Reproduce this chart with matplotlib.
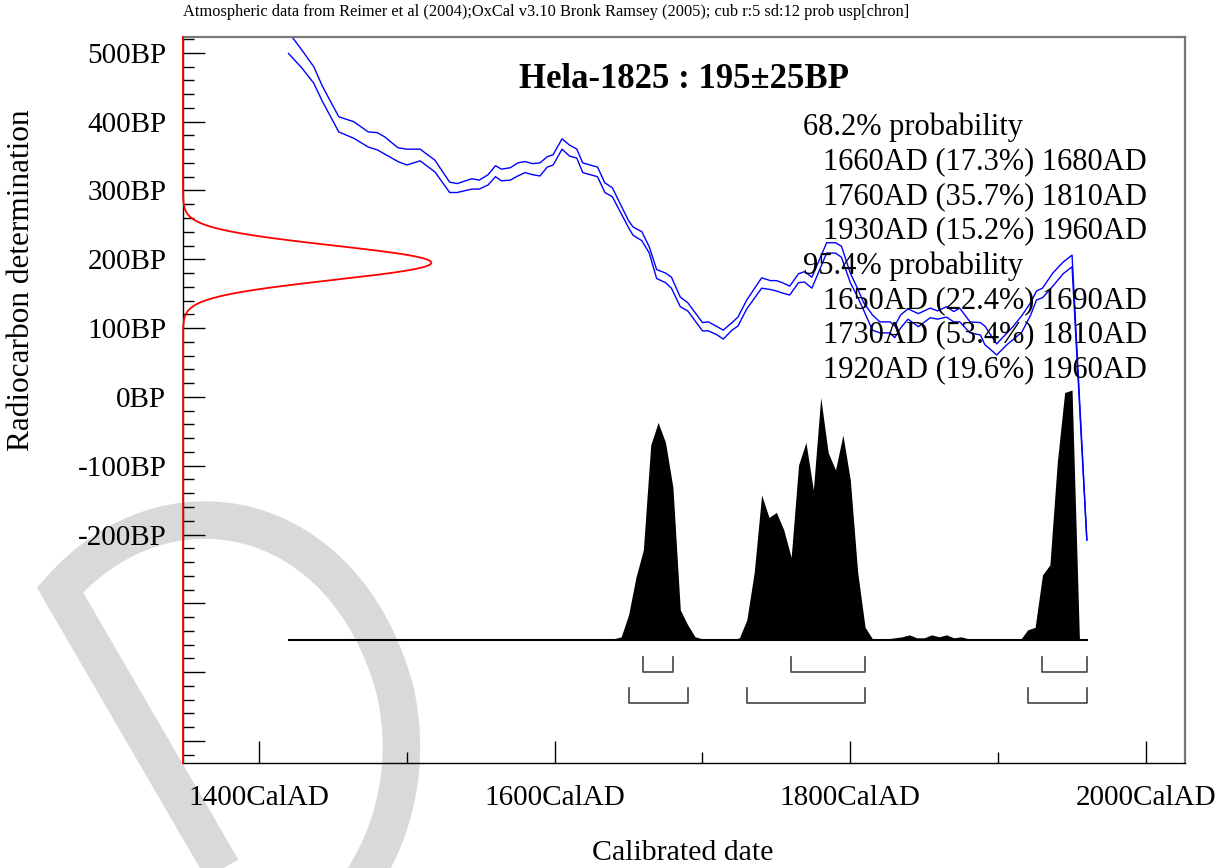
import numpy as np
import matplotlib
matplotlib.use('Agg')
import matplotlib.pyplot as plt
from matplotlib.ticker import FixedLocator, FuncFormatter
from matplotlib.path import Path
from matplotlib.patches import PathPatch

# Measurement
sample = 'Hela-1825'
c14_mean = 195
c14_sd = 25

# Calibration curve (upper / lower 1-sigma lines, BP)
cal_years = [1420, 1429, 1437, 1443, 1454, 1464, 1474, 1480, 1485, 1494, 1500, 1509,
             1519, 1529, 1534, 1544, 1549, 1555, 1560, 1564, 1570, 1575, 1580, 1585,
             1590, 1595, 1599, 1605, 1610, 1615, 1619, 1629, 1634, 1639, 1650, 1653,
             1659, 1664, 1669, 1675, 1679, 1685, 1690, 1700, 1704, 1710, 1714, 1720,
             1724, 1730, 1740, 1746, 1750, 1754, 1759, 1765, 1769, 1774, 1784, 1790,
             1794, 1800, 1805, 1809, 1815, 1820, 1827, 1830, 1834, 1839, 1846, 1854,
             1859, 1865, 1870, 1874, 1881, 1888, 1891, 1899, 1906, 1910, 1916, 1922,
             1926, 1930, 1937, 1944, 1950, 1960]
cal_upper = [530, 504, 480, 451, 407, 400, 385, 384, 378, 362, 360, 360,
             344, 312, 310, 317, 315, 323, 336, 331, 333, 340, 342, 339,
             340, 349, 352, 375, 366, 360, 340, 334, 311, 304, 256, 247,
             240, 218, 185, 180, 174, 145, 137, 108, 109, 102, 97, 108,
             116, 141, 173, 169, 169, 166, 161, 179, 182, 174, 224, 224,
             219, 180, 157, 137, 119, 109, 109, 103, 119, 128, 121, 129,
             125, 131, 124, 129, 109, 108, 103, 77, 93, 102, 118, 137,
             154, 158, 180, 196, 206, -208]
cal_lower = [499, 478, 456, 429, 385, 376, 363, 359, 353, 342, 337, 343,
             327, 297, 297, 302, 302, 308, 320, 314, 315, 321, 326, 323,
             321, 334, 337, 360, 350, 347, 326, 320, 297, 291, 246, 235,
             227, 209, 172, 166, 158, 131, 125, 96, 96, 90, 84, 97,
             103, 128, 158, 156, 154, 151, 148, 166, 167, 158, 209, 209,
             203, 166, 145, 126, 97, 93, 93, 86, 100, 113, 102, 115,
             113, 116, 109, 109, 93, 90, 76, 61, 76, 83, 94, 119,
             141, 144, 161, 179, 189, -208]

# Calibrated probability (relative)
prob_years = [1420, 1635, 1640, 1645, 1650, 1655, 1660, 1665, 1670, 1675, 1680, 1685,
              1690, 1695, 1700, 1705, 1710, 1715, 1720, 1725, 1730, 1735, 1740, 1745,
              1750, 1755, 1760, 1765, 1770, 1775, 1780, 1785, 1790, 1795, 1800, 1805,
              1810, 1815, 1820, 1825, 1830, 1835, 1840, 1845, 1850, 1855, 1860, 1865,
              1870, 1875, 1880, 1885, 1890, 1895, 1900, 1905, 1910, 1915, 1920, 1925,
              1930, 1935, 1940, 1945, 1950, 1955, 1960]
prob = [0, 0, 0.004, 0.012, 0.10, 0.25, 0.36, 0.78, 0.87, 0.79, 0.61, 0.12,
        0.06, 0.012, 0.004, 0.004, 0, 0, 0, 0.008, 0.08, 0.27, 0.58, 0.49,
        0.51, 0.44, 0.33, 0.70, 0.79, 0.60, 0.97, 0.75, 0.68, 0.82, 0.64, 0.27,
        0.05, 0.004, 0, 0.004, 0.008, 0.012, 0.02, 0.008, 0.008, 0.02, 0.012, 0.02,
        0.008, 0.012, 0.004, 0, 0, 0, 0, 0, 0, 0, 0.04, 0.05,
        0.26, 0.30, 0.71, 0.99, 1.0, 0, 0]

# Ranges
ranges_68 = [(1660, 1680), (1760, 1810), (1930, 1960)]
ranges_95 = [(1650, 1690), (1730, 1810), (1920, 1960)]
lines_68 = ['1660AD (17.3%) 1680AD', '1760AD (35.7%) 1810AD', '1930AD (15.2%) 1960AD']
lines_95 = ['1650AD (22.4%) 1690AD', '1730AD (53.4%) 1810AD', '1920AD (19.6%) 1960AD']

header = ('Atmospheric data from Reimer et al (2004);OxCal v3.10 Bronk Ramsey (2005); '
          'cub r:5 sd:12 prob usp[chron]')

plt.rcParams['font.family'] = ['Liberation Serif', 'DejaVu Serif']

W, H = 1228, 868
fig = plt.figure(figsize=(W / 100, H / 100), dpi=100)

# watermark
verts = [(275, 960), (60, 590), (165, 470), (345, 505), (395, 690),
         (420, 800), (370, 910), (275, 960)]
verts = [(x / W, 1 - y / H) for x, y in verts]
codes = [Path.MOVETO, Path.LINETO, Path.CURVE4, Path.CURVE4, Path.CURVE4,
         Path.CURVE4, Path.CURVE4, Path.CURVE4]
wm = PathPatch(Path(verts, codes), transform=fig.transFigure, facecolor='none',
               edgecolor='#d9d9d9', lw=27, zorder=-5)
fig.patches.append(wm)

ax = fig.add_axes([183 / W, 1 - 763 / H, 1002 / W, 726 / H])
ax.set_facecolor('none')
xmin, xmax = 1348.6, 2026.4
ymin, ymax = -532, 523
ax.set_xlim(xmin, xmax)
ax.set_ylim(ymin, ymax)

# measured gaussian on the y axis
yy = np.linspace(ymin, ymax, 1500)
xx = xmin + 168 * np.exp(-0.5 * ((yy - c14_mean) / c14_sd) ** 2)
ax.plot(xx, yy, color='red', lw=1.3, clip_on=False, zorder=5)

# calibration curve
ax.plot(cal_years, cal_upper, color='blue', lw=1.0)
ax.plot(cal_years, cal_lower, color='blue', lw=1.0)

# probability distribution
base = -353
scale = 363
ptop = [base + p * scale for p in prob]
ax.fill_between(prob_years, base, ptop, color='black', lw=0)
ax.plot([prob_years[0], prob_years[-1]], [base, base], color='black', lw=1.5)

# range brackets
for rngs, top, bot in [(ranges_68, -378, -400), (ranges_95, -423, -445)]:
    for a, b in rngs:
        ax.plot([a, a, b, b], [top, bot, bot, top], color='#444444', lw=1.2)

# ticks
ax.xaxis.set_major_locator(FixedLocator([1400, 1600, 1800, 2000]))
ax.xaxis.set_minor_locator(FixedLocator([1500, 1700, 1900]))
ax.xaxis.set_major_formatter(FuncFormatter(lambda v, p: f'{int(v)}CalAD'))
ax.yaxis.set_major_locator(FixedLocator(np.arange(-500, 501, 100)))
ax.yaxis.set_minor_locator(FixedLocator(np.arange(-520, 521, 20)))
ax.yaxis.set_major_formatter(FuncFormatter(lambda v, p: f'{int(v)}BP' if v >= -200 else ''))
ax.tick_params(which='both', direction='in', top=False, right=False, labelsize=21, width=1)
ax.tick_params(which='major', length=16)
ax.tick_params(which='minor', length=8)
ax.tick_params(axis='x', pad=16)
ax.tick_params(axis='y', pad=12)

for s in ['top', 'right']:
    ax.spines[s].set_color('#777777')
    ax.spines[s].set_linewidth(1.6)
ax.spines['bottom'].set_linewidth(1.0)
ax.spines['left'].set_linewidth(1.0)

# texts
ax.text(0.5, 0.941, f'{sample} : {c14_mean}\u00b1{c14_sd}BP', transform=ax.transAxes,
        ha='center', va='center', fontsize=25, fontweight='bold')
dy = 34.7 / 726
y0 = (763 - 127) / 726
ax.text(0.619, y0, '68.2% probability', transform=ax.transAxes, ha='left', va='center', fontsize=22)
for i, s in enumerate(lines_68):
    ax.text(0.639, y0 - dy * (i + 1), s, transform=ax.transAxes, ha='left', va='center', fontsize=22)
ax.text(0.619, y0 - dy * 4, '95.4% probability', transform=ax.transAxes, ha='left', va='center', fontsize=22)
for i, s in enumerate(lines_95):
    ax.text(0.639, y0 - dy * (i + 5), s, transform=ax.transAxes, ha='left', va='center', fontsize=22)

fig.text(183 / W, 1 - 12 / H, header, ha='left', va='center', fontsize=11.8)
fig.text(22 / W, 1 - 280 / H, 'Radiocarbon determination', rotation=90, ha='center',
         va='center', fontsize=22.5)
fig.text(683 / W, 1 - 853 / H, 'Calibrated date', ha='center', va='center', fontsize=21.5)

fig.savefig('out.png', dpi=100)
